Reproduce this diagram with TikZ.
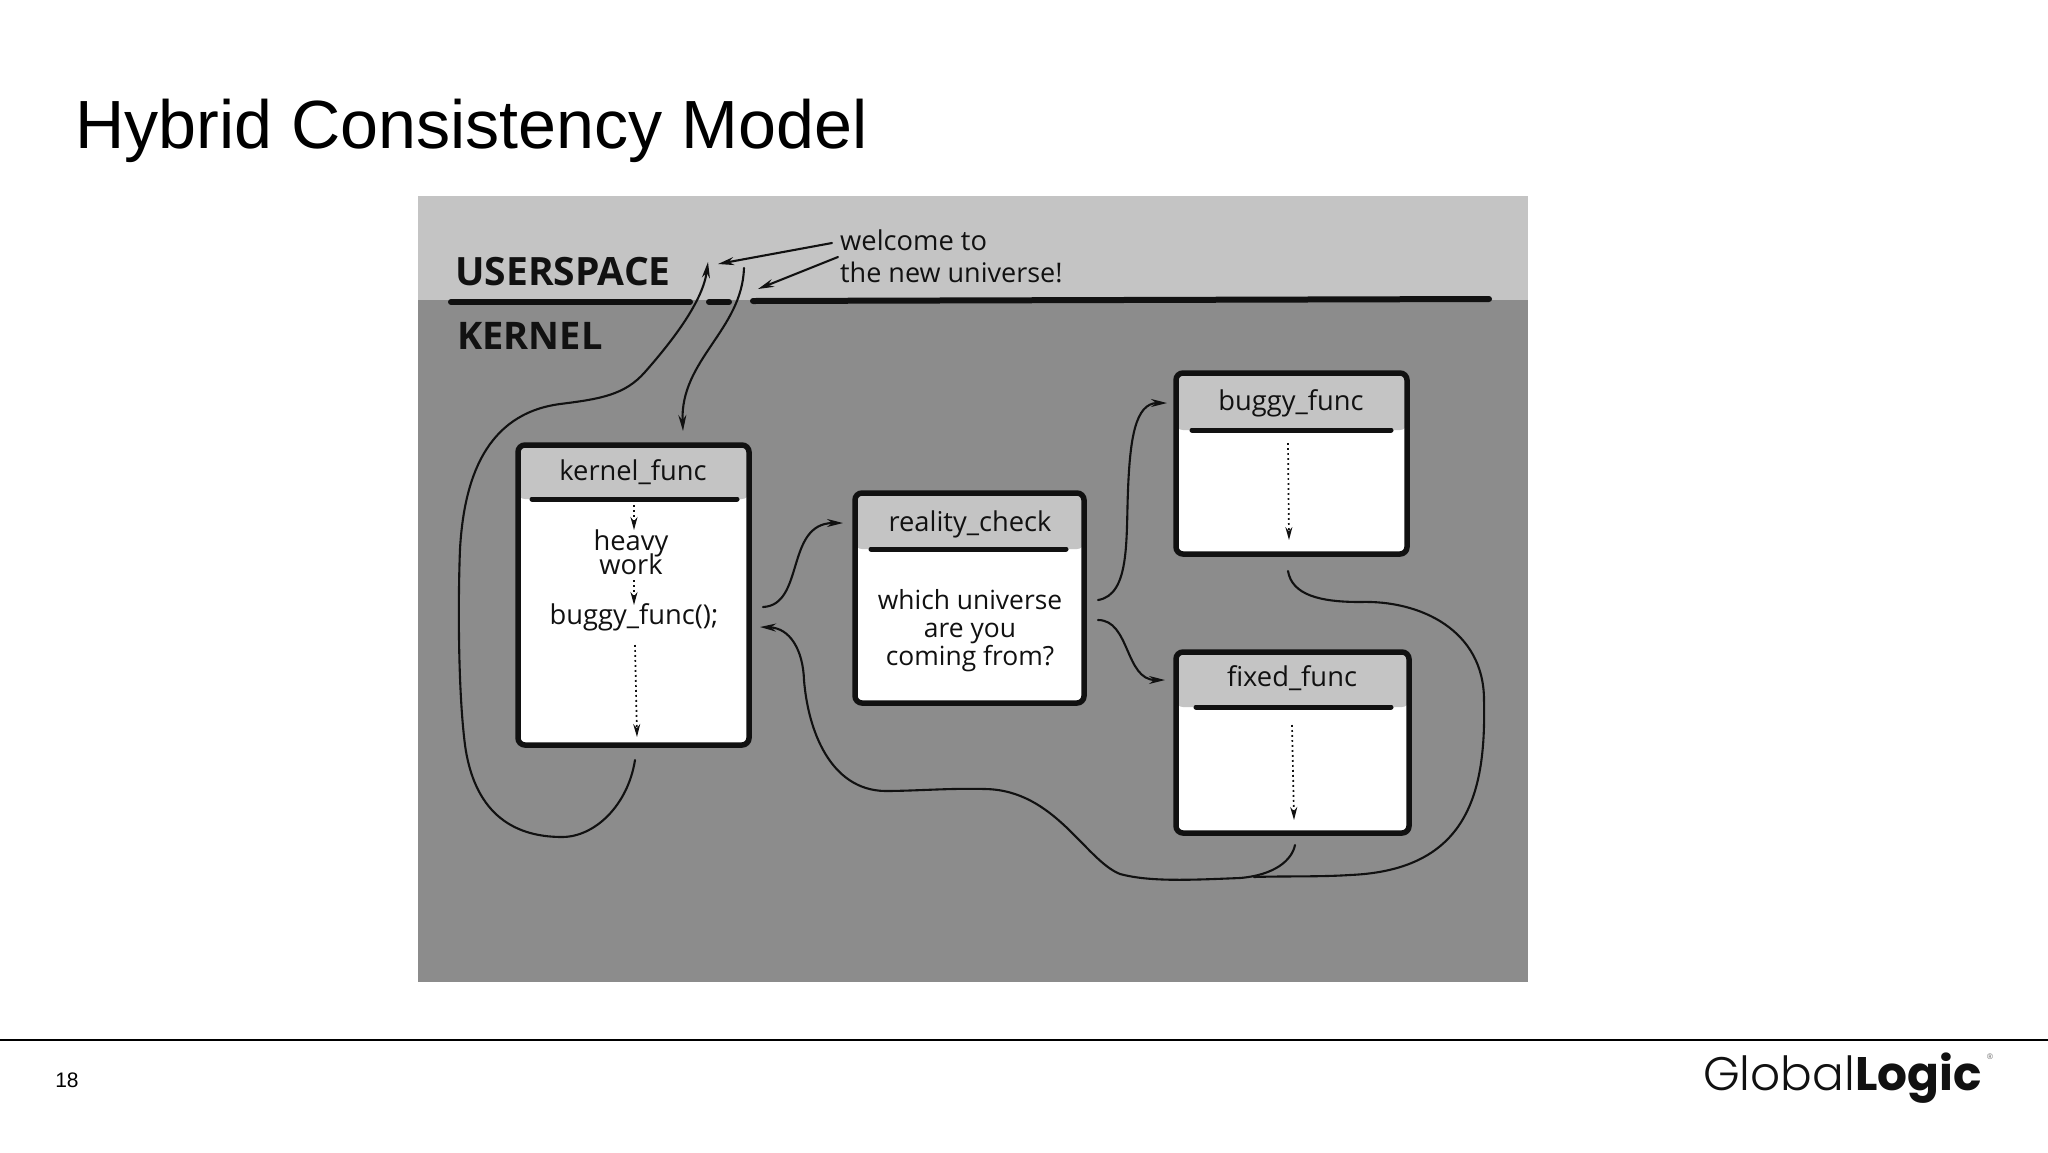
\documentclass[tikz,border=0pt]{standalone}
\usepackage{fontspec}
\usetikzlibrary{arrows.meta}
\setmainfont{Liberation Sans}
\newfontfamily\hand{Open Sans}
\newfontfamily\logolight{Poppins Light}
\newfontfamily\logobold{Poppins}[BoldFont={Poppins Bold}]
\definecolor{panelL}{HTML}{C4C4C4}
\definecolor{panelD}{HTML}{8C8C8C}
\definecolor{ink}{HTML}{111111}
\tikzset{
  box/.style n args={3}{draw=ink,line width=5.5pt,fill=white,rounded corners=7pt,inner sep=0pt,
    minimum width=#1pt,minimum height=#2pt,
    path picture={\fill[panelL] (path picture bounding box.north west) rectangle ([yshift=-#3pt]path picture bounding box.north east);}},
  rule/.style={ink,line width=5pt,line cap=round},
  wire/.style={ink,line width=2.1pt,line cap=round},
  tipped/.style={wire,-{Stealth[length=16pt,width=8pt]}},
  flow/.style={ink,line width=1.7pt,dash pattern=on 1.8pt off 3.2pt,-{Stealth[length=13pt,width=7pt]}},
  boxtext/.style={font=\hand\fontsize{27.3}{30}\selectfont,text=ink,inner sep=0pt,anchor=base},
  brand/.style={inner sep=0pt,text=ink},
}
\begin{document}
\begin{tikzpicture}[x=1pt,y=-1pt]
\useasboundingbox (0,0) rectangle (2048,1152);
\fill[white] (0,0) rectangle (2048,1152);
% slide
\node[anchor=base west,inner sep=0pt,font=\fontsize{68.2}{70}\selectfont] (title) at (75,148) {Hybrid Consistency Model};
\draw[black,line width=2.6pt] (0,1040) -- (2048,1040);
\node[inner sep=0pt,font=\fontsize{21}{22}\selectfont] (page) at (67,1080) {18};
\node[brand,anchor=base west] (logo) at (1703,1090) {\fontsize{47}{50}\selectfont{\logolight Global}{\logobold\bfseries Logic}};
\node[brand,font=\fontsize{8}{8}\selectfont,text=black!60] (reg) at (1990,1057) {®};
% panel
\fill[panelL] (418,196) rectangle (1528,300);
\fill[panelD] (418,300) rectangle (1528,982);
\draw[rule,line width=6pt] (451,302) -- (690,302);
\draw[rule,line width=6pt] (709,302) -- (729,302);
\draw[rule,line width=6pt] (753,301) -- (1489,299);
\node[inner sep=0pt,text=ink,font=\hand\bfseries\fontsize{39}{40}\selectfont] (us) at (563,272) {USERSPACE};
\node[inner sep=0pt,text=ink,font=\hand\bfseries\fontsize{38}{40}\selectfont] (kn) at (530,336) {KERNEL};
\node[boxtext,anchor=base west] (w1) at (840,250) {welcome to};
\node[boxtext,anchor=base west,font=\hand\fontsize{27}{30}\selectfont] (w2) at (840,282) {the new universe!};
% boxes
\node[box={231}{300}{54}] (kf) at (633.5,595) {};
\node[box={229}{210}{56}] (rc) at (969.5,598) {};
\node[box={231}{181}{57}] (bf) at (1291.5,463.5) {};
\node[box={233}{181}{55}] (ff) at (1292.5,742.5) {};
\draw[rule] (532,499) -- (737,499);
\draw[rule] (871,549) -- (1066,549);
\draw[rule] (1192,430) -- (1391,430);
\draw[rule] (1196,707) -- (1391,707);
\node[boxtext] (kft) at (633,480) {kernel\_func};
\node[boxtext] (h1) at (631,550) {heavy};
\node[boxtext] (h2) at (631,574) {work};
\node[boxtext] (h3) at (634,624) {buggy\_func();};
\node[boxtext] (rct) at (970,531) {reality\_check};
\node[boxtext,font=\hand\fontsize{26.4}{30}\selectfont] (r1) at (970,609) {which universe};
\node[boxtext,font=\hand\fontsize{26.4}{30}\selectfont] (r2) at (970,637) {are you};
\node[boxtext,font=\hand\fontsize{26.4}{30}\selectfont] (r3) at (970,665) {coming from?};
\node[boxtext] (bft) at (1291,410) {buggy\_func};
\node[boxtext] (fft) at (1292,686) {fixed\_func};
% free ends
\coordinate (wa1) at (832,243); \coordinate (wt1) at (718,264);
\coordinate (wa2) at (838,257); \coordinate (wt2) at (758,289);
\coordinate (upTip) at (708,262); \coordinate (kfOut) at (635,760);
\coordinate (downS) at (744,268); \coordinate (downT) at (683,431);
\coordinate (callS) at (763,607); \coordinate (callT) at (843,523);
\coordinate (retT) at (760,627); \coordinate (ffOut) at (1295,845);
\coordinate (bfOut) at (1288,571); \coordinate (merge) at (1254,877);
\coordinate (rcUp) at (1098,600); \coordinate (bfIn) at (1167,403);
\coordinate (rcDn) at (1098,620); \coordinate (ffIn) at (1165,680);
% annotation arrows
\draw[tipped] (wa1) -- (wt1);
\draw[tipped] (wa2) -- (wt2);
% connectors
\draw[tipped] (kfOut) .. controls (628,805) and (595,837) .. (562,837)
  .. controls (510,837) and (474,810) .. (465,745)
  .. controls (458,690) and (458,600) .. (460,549)
  .. controls (464,480) and (485,414) .. (560,404)
  .. controls (600,399) and (625,395) .. (645,372)
  .. controls (675,338) and (703,300) .. (upTip);
\draw[tipped] (downS) .. controls (742,330) and (680,360) .. (downT);
\draw[tipped] (callS) .. controls (805,605) and (785,523) .. (callT);
\draw[tipped] (ffOut) .. controls (1292,860) and (1275,875) .. (1240,878)
  .. controls (1190,880) and (1150,882) .. (1120,874)
  .. controls (1085,860) and (1055,790) .. (985,789)
  .. controls (950,788) and (915,791) .. (885,791)
  .. controls (830,790) and (808,730) .. (804,680)
  .. controls (803,650) and (790,628) .. (retT);
\draw[wire] (bfOut) .. controls (1292,595) and (1320,602) .. (1360,602)
  .. controls (1420,600) and (1484,630) .. (1484,700)
  .. controls (1486,790) and (1470,870) .. (1350,875)
  .. controls (1320,877) and (1280,876) .. (merge);
\draw[tipped] (rcUp) .. controls (1130,595) and (1126,540) .. (1128,490)
  .. controls (1130,440) and (1135,403) .. (bfIn);
\draw[tipped] (rcDn) .. controls (1130,620) and (1125,680) .. (ffIn);
% inner flow
\coordinate (f1a) at (634,505); \coordinate (f1b) at (634,530);
\coordinate (f2a) at (634,580); \coordinate (f2b) at (634,605);
\coordinate (f3a) at (635,645); \coordinate (f3b) at (637,737);
\coordinate (f4a) at (1288,443); \coordinate (f4b) at (1289,540);
\coordinate (f5a) at (1292,725); \coordinate (f5b) at (1294,820);
\draw[flow] (f1a) -- (f1b);
\draw[flow] (f2a) -- (f2b);
\draw[flow] (f3a) -- (f3b);
\draw[flow] (f4a) -- (f4b);
\draw[flow] (f5a) -- (f5b);
\end{tikzpicture}
\end{document}
